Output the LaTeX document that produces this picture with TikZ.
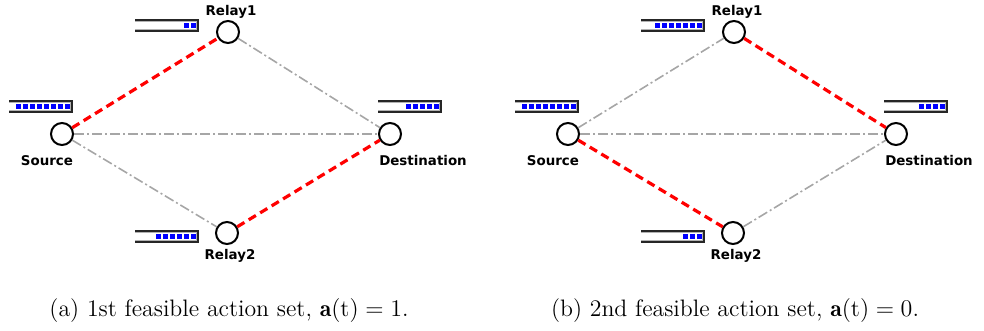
\documentclass[tikz,border=0pt]{standalone}
\usepackage{fontspec}
\newfontfamily\labelfont{DejaVu Sans}

% queue indicator: open-left frame with n blue packets packed to the right
% #1,#2 = top-left corner, #3 = number of packets
\newcommand\qbar[3]{%
  \draw[line width=0.8pt, black!85] (#1,#2) -- ++(63,0) -- ++(0,11) -- ++(-63,0);
  \draw[line width=0.5pt, black!30] (#1,#2+1.3) -- ++(61.7,0) -- ++(0,8.4) -- ++(-61.7,0);
  \foreach \k in {1,...,#3}
    \fill[blue] (#1+62.5-7*\k,#2+2.8) rectangle ++(5.3,5.4);
}

\begin{document}
\begin{tikzpicture}[x=0.5pt, y=-0.5pt,
  station/.style={circle, draw, line width=1pt, minimum size=11pt, inner sep=0pt},
  tag/.style={font=\labelfont\bfseries\fontsize{6.7}{8}\selectfont, inner sep=0pt, anchor=base},
  active/.style={red, line width=1.6pt, dash pattern=on 4.2pt off 2.5pt},
  idle/.style={black!35, line width=0.8pt, dash pattern=on 5pt off 1.5pt on 1pt off 1.5pt},
  caption/.style={font=\fontsize{11.9}{14}\selectfont, inner sep=0pt, anchor=base}]

\useasboundingbox (0,0) rectangle (984,331);

% ---------- (a) first action set ----------
\begin{scope}
  \node[station] (sa) at (62,134) {};
  \node[station] (r1a) at (228,32) {};
  \node[station] (r2a) at (227,233) {};
  \node[station] (da) at (390,134) {};

  \node[tag] (lsa) at (47,166) {Source};
  \node[tag] (lr1a) at (231,16) {Relay1};
  \node[tag] (lr2a) at (230,259) {Relay2};
  \node[tag] (lda) at (423,166) {Destination};

  \draw[idle] (sa) -- (da);
  \draw[idle] (sa) -- (r2a);
  \draw[idle] (r1a) -- (da);
  \draw[active] (sa) -- (r1a);
  \draw[active] (r2a) -- (da);

  \qbar{9}{101}{8}
  \qbar{135}{20}{2}
  \qbar{135}{231}{6}
  \qbar{378}{101}{5}

  \node[caption] (capa) at (229,316) {(a) 1st feasible action set, $\mathbf{a}(\mathrm{t})=1$.};
\end{scope}

% ---------- (b) second action set ----------
\begin{scope}[xshift=253pt]
  \node[station] (sb) at (62,134) {};
  \node[station] (r1b) at (228,32) {};
  \node[station] (r2b) at (227,233) {};
  \node[station] (db) at (390,134) {};

  \node[tag] (lsb) at (47,166) {Source};
  \node[tag] (lr1b) at (231,16) {Relay1};
  \node[tag] (lr2b) at (230,259) {Relay2};
  \node[tag] (ldb) at (423,166) {Destination};

  \draw[idle] (sb) -- (db);
  \draw[idle] (sb) -- (r1b);
  \draw[idle] (r2b) -- (db);
  \draw[active] (r1b) -- (db);
  \draw[active] (sb) -- (r2b);

  \qbar{9}{101}{8}
  \qbar{135}{20}{7}
  \qbar{135}{231}{3}
  \qbar{378}{101}{4}

  \node[caption] (capb) at (229,316) {(b) 2nd feasible action set, $\mathbf{a}(\mathrm{t})=0$.};
\end{scope}
\end{tikzpicture}
\end{document}
